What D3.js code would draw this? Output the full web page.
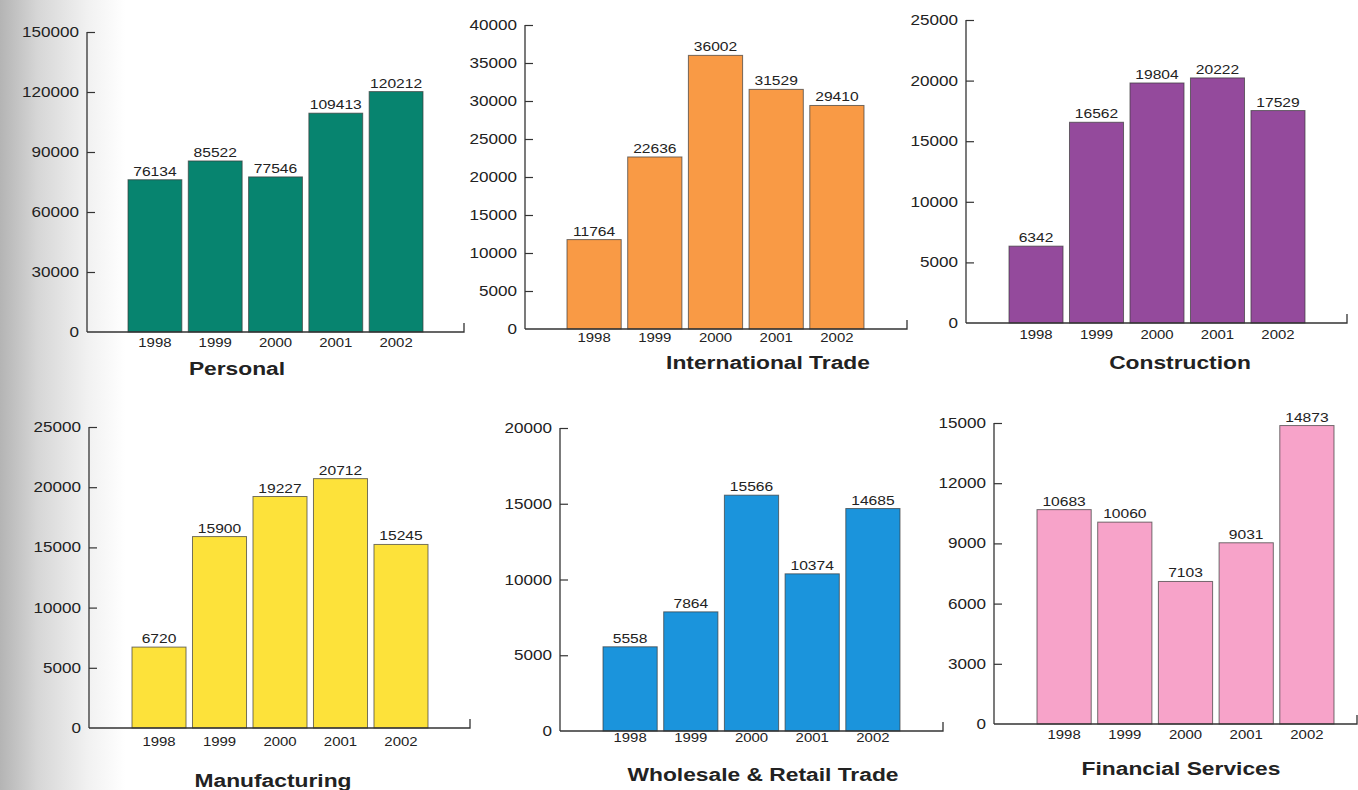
<!DOCTYPE html>
<html>
<head>
<meta charset="utf-8">
<script src="https://cdn.jsdelivr.net/npm/d3@7"></script>
<style>
  html, body { margin: 0; padding: 0; background: #fff; }
  svg { display: block; }
  text { font-family: "Liberation Sans", Arial, Helvetica, sans-serif; fill: #222; }
</style>
</head>
<body>
<svg id="chart" width="1358" height="790"></svg>
<script>
// Years shared by every sector chart
const years = ["1998", "1999", "2000", "2001", "2002"];

// Sector names
const sectors = ["Personal", "International Trade", "Construction",
                 "Manufacturing", "Wholesale & Retail Trade", "Financial Services"];

// Values per sector, one per year
const personal      = [76134, 85522, 77546, 109413, 120212];
const intlTrade     = [11764, 22636, 36002, 31529, 29410];
const construction  = [6342, 16562, 19804, 20222, 17529];
const manufacturing = [6720, 15900, 19227, 20712, 15245];
const wholesale     = [5558, 7864, 15566, 10374, 14685];
const financial     = [10683, 10060, 7103, 9031, 14873];

// Y-axis tick values per sector
const ticksPersonal      = [0, 30000, 60000, 90000, 120000, 150000];
const ticksIntlTrade     = [0, 5000, 10000, 15000, 20000, 25000, 30000, 35000, 40000];
const ticksConstruction  = [0, 5000, 10000, 15000, 20000, 25000];
const ticksManufacturing = [0, 5000, 10000, 15000, 20000, 25000];
const ticksWholesale     = [0, 5000, 10000, 15000, 20000];
const ticksFinancial     = [0, 3000, 6000, 9000, 12000, 15000];

const seriesValues = [personal, intlTrade, construction, manufacturing, wholesale, financial];
const seriesTicks  = [ticksPersonal, ticksIntlTrade, ticksConstruction,
                      ticksManufacturing, ticksWholesale, ticksFinancial];

// Fill colour of each sector
const colors = ["#07846f", "#f99a45", "#944a9c", "#fde23a", "#1b94dc", "#f7a3c9"];

// Placement of each small chart on the page
const layout = [
  { ax: 87,  top: 32,  zero: 332, b0: 128,  b1: 423,  end: 464,  yearY: 348, titleX: 236,  titleY: 375 },
  { ax: 525, top: 25,  zero: 329, b0: 567,  b1: 864,  end: 907,  yearY: 343, titleX: 767,  titleY: 369 },
  { ax: 966, top: 20,  zero: 323, b0: 1009, b1: 1305, end: 1347, yearY: 340, titleX: 1179, titleY: 369 },
  { ax: 89,  top: 427, zero: 728, b0: 132,  b1: 428,  end: 470,  yearY: 747, titleX: 272,  titleY: 787 },
  { ax: 560, top: 428, zero: 731, b0: 603,  b1: 900,  end: 943,  yearY: 743, titleX: 762,  titleY: 781 },
  { ax: 994, top: 423, zero: 724, b0: 1037, b1: 1334, end: 1357, yearY: 740, titleX: 1180, titleY: 775 }
];

// The page typeface is a wide grotesque; widen the installed sans horizontally
const WIDE_TICK = 1.22, WIDE_VAL = 1.2, WIDE_YEAR = 1.15, WIDE_TITLE = 1.2;

const svg = d3.select("#chart");

// Page background with the shaded binding edge on the left
const defs = svg.append("defs");
const grad = defs.append("linearGradient").attr("id", "edge").attr("x1", 0).attr("x2", 1);
grad.append("stop").attr("offset", "0").attr("stop-color", "#b4b4b4");
grad.append("stop").attr("offset", "0.3").attr("stop-color", "#d6d6d6");
grad.append("stop").attr("offset", "0.7").attr("stop-color", "#f1f1f1");
grad.append("stop").attr("offset", "1").attr("stop-color", "#ffffff");
svg.append("rect").attr("width", 1358).attr("height", 790).attr("fill", "#fff");
svg.append("rect").attr("width", 125).attr("height", 790).attr("fill", "url(#edge)");

sectors.forEach((name, i) => {
  const L = layout[i];
  const values = seriesValues[i];
  const ticks = seriesTicks[i];
  const g = svg.append("g");

  const x = d3.scaleBand().domain(years).range([L.b0, L.b1]).paddingInner(0.107).paddingOuter(0);
  const y = d3.scaleLinear().domain([0, d3.max(ticks)]).range([L.zero, L.top]);

  // Bars
  g.selectAll("rect.bar").data(values).join("rect")
    .attr("class", "bar")
    .attr("x", (d, j) => x(years[j]))
    .attr("y", d => y(d))
    .attr("width", x.bandwidth())
    .attr("height", d => y(0) - y(d))
    .attr("fill", colors[i])
    .attr("stroke", "#3a3a3a")
    .attr("stroke-opacity", 0.7)
    .attr("stroke-width", 1);

  // Value labels above bars
  g.selectAll("text.val").data(values).join("text")
    .attr("class", "val")
    .attr("transform", (d, j) =>
      `translate(${x(years[j]) + x.bandwidth() / 2},${y(d) - 4}) scale(${WIDE_VAL},1)`)
    .attr("text-anchor", "middle")
    .attr("font-size", 13)
    .text(d => d);

  // Y axis with inward ticks
  const yAxis = d3.axisRight(y).tickValues(ticks).tickSize(8).tickFormat("");
  const ya = g.append("g").attr("transform", `translate(${L.ax},0)`).call(yAxis);
  ya.select(".domain").remove();
  ya.selectAll(".tick line").attr("stroke", "#333").attr("stroke-width", 1.2);
  ya.selectAll(".tick").filter(d => d === 0).select("line").remove();
  g.append("line")
    .attr("x1", L.ax).attr("x2", L.ax).attr("y1", y(d3.max(ticks))).attr("y2", L.zero)
    .attr("stroke", "#333").attr("stroke-width", 1.3);

  // Tick labels on the left of the axis
  g.selectAll("text.tick-label").data(ticks).join("text")
    .attr("class", "tick-label")
    .attr("transform", d => `translate(${L.ax - 8},${y(d)}) scale(${WIDE_TICK},1)`)
    .attr("dy", "0.36em")
    .attr("text-anchor", "end")
    .attr("font-size", 14)
    .text(d => d);

  // X axis baseline with the small upturned end
  g.append("path")
    .attr("d", `M${L.ax},${L.zero}H${L.end}V${L.zero - 9}`)
    .attr("fill", "none").attr("stroke", "#333").attr("stroke-width", 1.3);

  // Year labels
  const xAxis = d3.axisBottom(x).tickSize(0).tickPadding(0);
  const xa = g.append("g").attr("transform", `translate(0,${L.yearY - 10})`).call(xAxis);
  xa.select(".domain").remove();
  xa.selectAll("text")
    .attr("font-size", 13)
    .attr("transform", `scale(${WIDE_YEAR},1)`)
    .attr("font-family", "\"Liberation Sans\", Arial, sans-serif")
    .attr("fill", "#222")
    .attr("dy", "0.71em");

  // Sector title
  g.append("text")
    .attr("transform", `translate(${L.titleX + 1},${L.titleY}) scale(${WIDE_TITLE},1)`)
    .attr("text-anchor", "middle")
    .attr("font-size", 19)
    .attr("font-weight", "bold")
    .text(name);
});
</script>
</body>
</html>
